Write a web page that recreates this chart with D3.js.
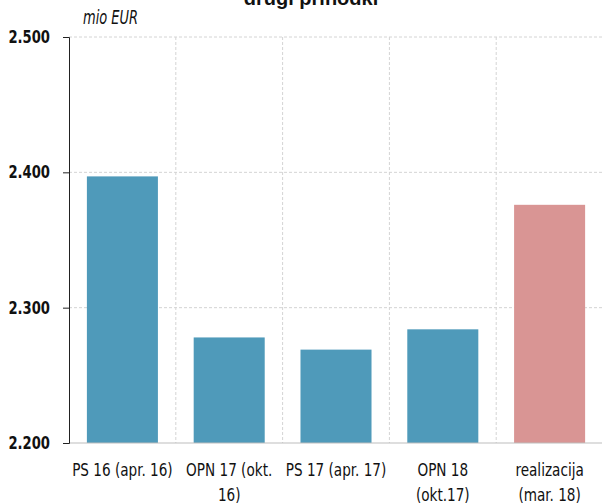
<!DOCTYPE html>
<html>
<head>
<meta charset="utf-8">
<script src="https://cdn.jsdelivr.net/npm/d3@7/dist/d3.min.js"></script>
<style>
  html, body { margin: 0; padding: 0; background: #fff; }
  svg { display: block; }
  .cond { font-family: "DejaVu Sans Condensed", "DejaVu Sans", sans-serif; font-stretch: condensed; }
</style>
</head>
<body>
<svg id="chart" width="602" height="504"></svg>
<script>
// Drugi prihodki, mio EUR
const categories = ["PS 16 (apr. 16)", "OPN 17 (okt.\n16)", "PS 17 (apr. 17)", "OPN 18\n(okt.17)", "realizacija\n(mar. 18)"];
const values = [2397, 2278, 2269, 2284, 2376];
const barColors = ["#4f9aba", "#4f9aba", "#4f9aba", "#4f9aba", "#d99594"];
const yTicks = [2200, 2300, 2400, 2500];
const title = "drugi prihodki";
const unitLabel = "mio EUR";

const svg = d3.select("#chart");
const plotLeft = 69, plotRight = 603, plotTop = 37, plotBottom = 443;

const locale = d3.formatLocale({ decimal: ",", thousands: ".", grouping: [3], currency: ["", " €"] });
const fmt = locale.format(",d");

// squeeze a text/tspan horizontally to get a narrow typeface look
function narrow(sel, factor) {
  sel.each(function () {
    const len = this.getComputedTextLength();
    d3.select(this).attr("textLength", len * factor).attr("lengthAdjust", "spacingAndGlyphs");
  });
}

const x = d3.scaleBand().domain(categories).range([plotLeft, plotRight]).paddingInner(0.335).paddingOuter(0.1675);
const y = d3.scaleLinear().domain([2200, 2500]).range([plotBottom, plotTop]);

// band boundaries for vertical grid
const step = x.step();
const bounds = categories.map((c, i) => plotLeft + step * (i + 1));

const grid = svg.append("g");
grid.selectAll("line.h").data(yTicks.filter(t => t > 2200)).join("line")
  .attr("x1", plotLeft).attr("x2", plotRight)
  .attr("y1", d => y(d)).attr("y2", d => y(d))
  .attr("stroke", "#d4d4d4").attr("stroke-dasharray", "3,2");
grid.selectAll("line.v").data(bounds.slice(0, -1)).join("line")
  .attr("x1", d => d).attr("x2", d => d)
  .attr("y1", plotTop).attr("y2", plotBottom)
  .attr("stroke", "#d4d4d4").attr("stroke-dasharray", "3,2");

// bars
svg.append("g").selectAll("rect").data(values).join("rect")
  .attr("x", (d, i) => x(categories[i]))
  .attr("width", x.bandwidth())
  .attr("y", d => y(d))
  .attr("height", d => y(2200) - y(d))
  .attr("fill", (d, i) => barColors[i]);

// baseline
svg.append("line").attr("x1", plotLeft).attr("x2", plotRight)
  .attr("y1", plotBottom).attr("y2", plotBottom).attr("stroke", "#bdbdbd");

// y axis
const yAxis = d3.axisLeft(y).tickValues(yTicks).tickFormat(fmt).tickSize(6).tickPadding(13);
const ya = svg.append("g").attr("transform", `translate(${plotLeft},0)`).call(yAxis);
ya.select(".domain").attr("stroke", "#222").attr("d", `M-6,${plotTop}.5H0.5V${plotBottom}.5H-6`);
ya.selectAll(".tick line").attr("stroke", "#222");
ya.selectAll(".tick text").attr("class", "cond")
  .attr("font-size", 17).attr("font-weight", "bold").attr("fill", "#111");
narrow(ya.selectAll(".tick text"), 0.86);

// category labels
const lab = svg.append("g").attr("class", "cond");
categories.forEach(c => {
  const cx = x(c) + x.bandwidth() / 2;
  const t = lab.append("text").attr("text-anchor", "middle")
    .attr("font-size", 18).attr("fill", "#111")
    .attr("x", cx).attr("y", 476);
  c.split("\n").forEach((line, j) => {
    t.append("tspan").attr("x", cx).attr("dy", j === 0 ? 0 : 25).text(line);
  });
});
narrow(lab.selectAll("tspan"), 0.84);

// unit label
const unit = svg.append("text").attr("class", "cond").attr("x", 83).attr("y", 24)
  .attr("font-size", 19).attr("font-style", "italic").attr("fill", "#111").text(unitLabel);
narrow(unit, 0.76);

// title
svg.append("text").attr("x", 311).attr("y", 5).attr("text-anchor", "middle")
  .attr("font-family", "'Liberation Sans', Arial, sans-serif")
  .attr("font-size", 20).attr("font-weight", "bold").attr("fill", "#111").text(title);
</script>
</body>
</html>
